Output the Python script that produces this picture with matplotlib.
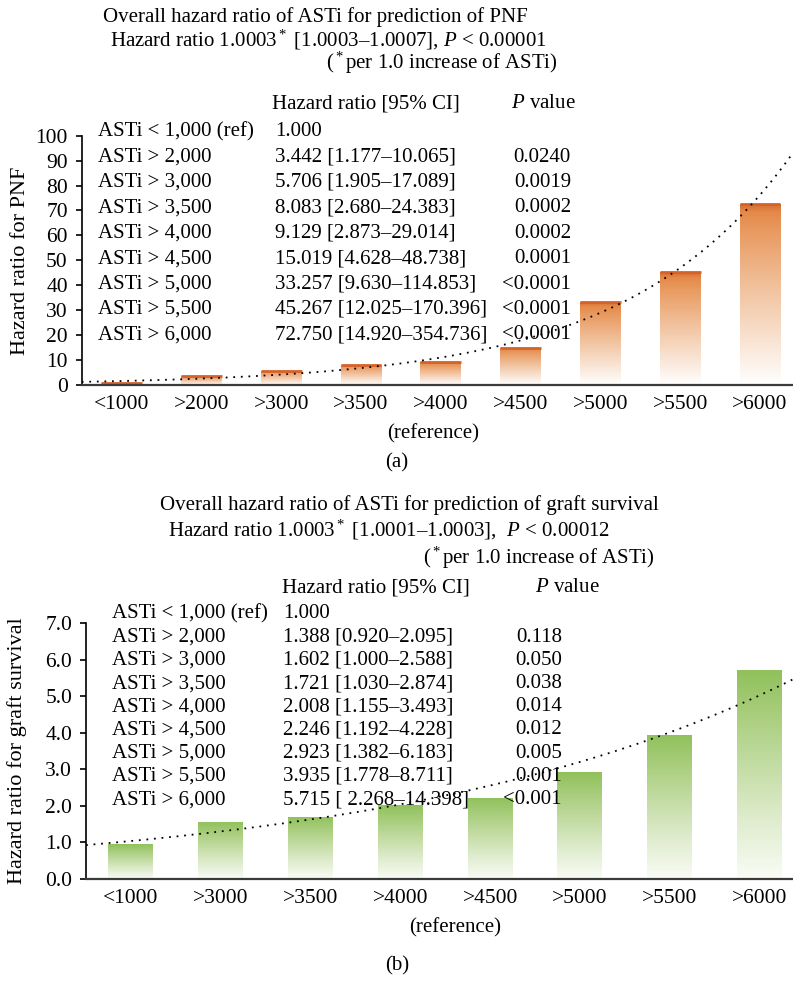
import numpy as np
import matplotlib
matplotlib.use("Agg")
import matplotlib.pyplot as plt
from matplotlib.colors import LinearSegmentedColormap

plt.rcParams['font.family'] = ['Liberation Serif', 'DejaVu Serif']
plt.rcParams['mathtext.fontset'] = 'custom'
plt.rcParams['mathtext.rm'] = 'Liberation Serif'
plt.rcParams['mathtext.it'] = 'Liberation Serif:italic'

# ---------------- data ----------------
pnf_categories = ["<1000", ">2000", ">3000", ">3500", ">4000", ">4500", ">5000", ">5500", ">6000"]
pnf_values = [1.000, 3.442, 5.706, 8.083, 9.129, 15.019, 33.257, 45.267, 72.750]
pnf_rows = ["ASTi < 1,000 (ref)", "ASTi > 2,000", "ASTi > 3,000", "ASTi > 3,500", "ASTi > 4,000",
            "ASTi > 4,500", "ASTi > 5,000", "ASTi > 5,500", "ASTi > 6,000"]
pnf_hr = ["1.000", "3.442 [1.177\u201310.065]", "5.706 [1.905\u201317.089]", "8.083 [2.680\u201324.383]",
          "9.129 [2.873\u201329.014]", "15.019 [4.628\u201348.738]", "33.257 [9.630\u2013114.853]",
          "45.267 [12.025\u2013170.396]", "72.750 [14.920\u2013354.736]"]
pnf_p = ["", "0.0240", "0.0019", "0.0002", "0.0002", "0.0001", "<0.0001", "<0.0001", "<0.0001"]
pnf_yticks = [0, 10, 20, 30, 40, 50, 60, 70, 80, 90, 100]

gs_categories = ["<1000", ">3000", ">3500", ">4000", ">4500", ">5000", ">5500", ">6000"]
gs_values = [0.95, 1.56, 1.70, 2.01, 2.22, 2.92, 3.94, 5.71]
gs_rows = ["ASTi < 1,000 (ref)", "ASTi > 2,000", "ASTi > 3,000", "ASTi > 3,500", "ASTi > 4,000",
           "ASTi > 4,500", "ASTi > 5,000", "ASTi > 5,500", "ASTi > 6,000"]
gs_hr = ["1.000", "1.388 [0.920\u20132.095]", "1.602 [1.000\u20132.588]", "1.721 [1.030\u20132.874]",
         "2.008 [1.155\u20133.493]", "2.246 [1.192\u20134.228]", "2.923 [1.382\u20136.183]",
         "3.935 [1.778\u20138.711]", "5.715 [ 2.268\u201314.398]"]
gs_p = ["", "0.118", "0.050", "0.038", "0.014", "0.012", "0.005", "0.001", "<0.001"]
gs_yticks = [0.0, 1.0, 2.0, 3.0, 4.0, 5.0, 6.0, 7.0]

# ---------------- figure ----------------
W, H = 793, 982
fig = plt.figure(figsize=(W / 100, H / 100), dpi=100)
FS = 15


def fx(px):
    return px / W


def fy(py):
    return 1 - py / H


def ftext(x, y, s, ha='left', va='center', **kw):
    fig.text(fx(x), fy(y), s, ha=ha, va=va, fontsize=kw.pop('fontsize', FS), **kw)


orange = LinearSegmentedColormap.from_list(
    "org", [(0.0, "#FFFFFF"), (0.15, "#FBEEE4"), (0.5, "#F2C6A4"), (0.85, "#E99A60"),
            (0.95, "#E48A4A"), (1.0, "#D86A30")])
green = LinearSegmentedColormap.from_list(
    "grn", [(0.0, "#FAFCF6"), (0.3, "#DDEBCB"), (0.7, "#B3D38B"), (1.0, "#90C15B")])


def gradient_bars(ax, values, cmap, width=0.51, top_color=None):
    xs = np.arange(len(values))
    bars = ax.bar(xs, values, width=width, color='none', edgecolor='none', zorder=2)
    grad = np.linspace(0, 1, 256).reshape(-1, 1)
    for b in bars:
        x0, w, h = b.get_x(), b.get_width(), b.get_height()
        im = ax.imshow(grad, extent=[x0, x0 + w, 0, h], origin='lower', aspect='auto',
                       cmap=cmap, zorder=2, interpolation='bilinear')
        im.set_clip_path(b)
        if top_color is not None:
            ax.plot([x0, x0 + w], [h, h], color=top_color, lw=2.0,
                    solid_capstyle='butt', zorder=2.5)


def trend(ax, values, x_end):
    xs = np.arange(len(values))
    b, a = np.polyfit(xs, np.log(values), 1)
    xx = np.linspace(-0.5, x_end, 300)
    ax.plot(xx, np.exp(a + b * xx), color='black', lw=1.3, linestyle=(0, (1, 3.2)), zorder=3)


def style_axes(ax, cats, yticks, fmt, ylabel, ylabel_x):
    n = len(cats)
    ax.set_xlim(-0.5, n - 0.5)
    ax.set_ylim(yticks[0], yticks[-1])
    ax.set_xticks(np.arange(n))
    ax.set_xticklabels(cats, fontsize=FS + 0.5)
    ax.set_yticks(yticks)
    ax.set_yticklabels([fmt.format(v) for v in yticks], fontsize=FS + 0.5)
    ax.tick_params(axis='x', length=0, pad=7)
    ax.tick_params(axis='y', length=4, width=1.2, pad=6, direction='out')
    for s in ['top', 'right']:
        ax.spines[s].set_visible(False)
    ax.spines['left'].set_linewidth(1.2)
    ax.spines['bottom'].set_linewidth(1.6)
    ax.spines['bottom'].set_color('#3a3a3a')
    ax.patch.set_alpha(0)
    ax.set_ylabel(ylabel, fontsize=FS + 1)
    ax.yaxis.set_label_coords(ylabel_x, 0.5)


# ---------- panel (a) ----------
ax1 = fig.add_axes([fx(81.7), fy(385), fx(9 * 79.8), fy(135.7) - fy(385)])
gradient_bars(ax1, pnf_values, orange, top_color="#D4622A")
trend(ax1, pnf_values, 9.0)
style_axes(ax1, pnf_categories, pnf_yticks, "{:d}", "Hazard ratio for PNF", -0.072)

ftext(103, 17, "Overall hazard ratio of ASTi for prediction of PNF")
ftext(110, 40, "Hazard ratio 1.0003$^*$ [1.0003\u20131.0007], $P$ < 0.00001")
ftext(326, 63, "($^*$per 1.0 increase of ASTi)")
ftext(272, 104, "Hazard ratio [95% CI]")
ftext(511, 104, "$P$ value")
for i in range(len(pnf_rows)):
    y = 131.7 + 25.4 * i
    ftext(98, y, pnf_rows[i])
    ftext(275, y, pnf_hr[i])
    ftext(571, y, pnf_p[i], ha='right')
ftext(433, 434, "(reference)", ha='center')
ftext(397, 463, "(a)", ha='center')

# ---------- panel (b) ----------
ax2 = fig.add_axes([fx(86), fy(879), fx(8 * 89.8), fy(623) - fy(879)])
gradient_bars(ax2, gs_values, green, width=0.5)
trend(ax2, gs_values, 8.0)
style_axes(ax2, gs_categories, gs_yticks, "{:.1f}", "Hazard ratio for graft survival", -0.082)

ftext(160, 505, "Overall hazard ratio of ASTi for prediction of graft survival")
ftext(168, 530, "Hazard ratio 1.0003$^*$ [1.0001\u20131.0003],  $P$ < 0.00012")
ftext(423, 558, "($^*$per 1.0 increase of ASTi)")
ftext(282, 588, "Hazard ratio [95% CI]")
ftext(535, 588, "$P$ value")
for i in range(len(gs_rows)):
    y = 614 + 23.2 * i
    ftext(112, y, gs_rows[i])
    ftext(283, y, gs_hr[i])
    ftext(562, y, gs_p[i], ha='right')
ftext(455, 928, "(reference)", ha='center')
ftext(397, 966, "(b)", ha='center')

fig.savefig("out.png", dpi=100)
